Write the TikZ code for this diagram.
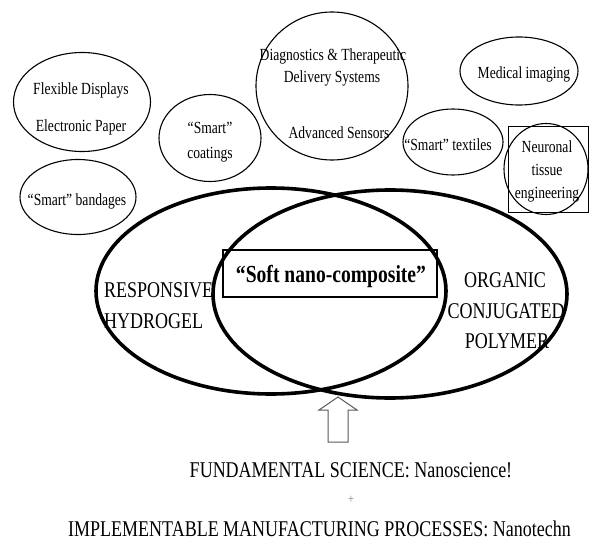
\documentclass[tikz,border=0pt]{standalone}
\usepackage{fontspec}
\usetikzlibrary{shapes.geometric}
\newfontfamily\tnr[FakeStretch=0.8]{Liberation Serif}
\begin{document}
\begin{tikzpicture}[x=1pt,y=-1pt,
  bub/.style={draw, ellipse, line width=1.1pt, inner sep=0pt},
  venn/.style={draw, ellipse, line width=3.6pt, inner sep=0pt},
  smalltxt/.style={anchor=base, inner sep=0pt, font=\tnr\fontsize{17}{20}\selectfont},
  bigtxt/.style={anchor=base, inner sep=0pt, font=\tnr\fontsize{22.5}{26}\selectfont},
  arrowst/.style={draw=black!65, line width=1pt, fill=white, line join=miter}
]
\useasboundingbox (0,0) rectangle (589,543);
\fill[white] (0,0) rectangle (589,543);

% application bubbles
\node[bub, minimum width=137pt, minimum height=99pt] (flex) at (82,102) {};
\node[smalltxt] (flexA) at (81,95) {Flexible Displays};
\node[smalltxt] (flexB) at (81,131) {Electronic Paper};

\node[bub, minimum width=102pt, minimum height=87pt] (coat) at (210,138) {};
\node[smalltxt] (coatA) at (210,133) {“Smart”};
\node[smalltxt] (coatB) at (210,158) {coatings};

\node[bub, minimum width=116pt, minimum height=75pt] (band) at (78,197) {};
\node[smalltxt] (bandA) at (77,205) {“Smart” bandages};

\node[bub, minimum width=152pt, minimum height=148pt] (diag) at (332,86) {};
\node[smalltxt] (diagA) at (333,60) {Diagnostics \& Therapeutic};
\node[smalltxt] (diagB) at (332,82) {Delivery Systems};
\node[smalltxt] (diagC) at (339,138) {Advanced Sensors};

\node[bub, minimum width=118pt, minimum height=68pt] (med) at (519,71) {};
\node[smalltxt] (medA) at (524,78) {Medical imaging};

\node[bub, minimum width=100pt, minimum height=66pt] (text) at (453,142) {};
\node[smalltxt] (textA) at (448,150) {“Smart” textiles};

\node[draw, line width=0.9pt, minimum width=80pt, minimum height=86pt, inner sep=0pt] (neurbox) at (548,169) {};
\node[bub, minimum width=84pt, minimum height=91pt] (neur) at (546,169) {};
\node[smalltxt] (neurA) at (547,152) {Neuronal};
\node[smalltxt] (neurB) at (547,175) {tissue};
\node[smalltxt] (neurC) at (547,198) {engineering};

% Venn diagram
\node[venn, minimum width=350pt, minimum height=206pt] (hyd) at (271,291) {};
\node[venn, minimum width=354pt, minimum height=208pt] (ocp) at (390,294) {};

\node[draw, line width=1.4pt, minimum width=214pt, minimum height=47pt, inner sep=0pt] (soft) at (330,273.5) {};
\node[anchor=base, inner sep=0pt, font=\tnr\bfseries\fontsize{24.5}{28}\selectfont] (softT) at (331,282) {“Soft nano-composite”};

\node[bigtxt, anchor=base west] (respA) at (104,297) {RESPONSIVE};
\node[bigtxt, anchor=base west] (respB) at (104,328) {HYDROGEL};

\node[bigtxt] (orgA) at (505,287) {ORGANIC};
\node[bigtxt] (orgB) at (506,318) {CONJUGATED};
\node[bigtxt] (orgC) at (507,348) {POLYMER};

% block arrow
\draw[arrowst] (338,397) -- (357,410) -- (348,410) -- (348,442) -- (328,442) -- (328,410) -- (319,410) -- cycle;

% bottom texts
\node[bigtxt] (fund) at (351,477) {FUNDAMENTAL SCIENCE: Nanoscience!};
\node[anchor=center, inner sep=0pt, text=black!50, font=\tnr\fontsize{13}{15}\selectfont] (plus) at (351,500) {+};
\node[bigtxt, anchor=base west] (impl) at (68,536) {IMPLEMENTABLE MANUFACTURING PROCESSES: Nanotechn};
\end{tikzpicture}
\end{document}
